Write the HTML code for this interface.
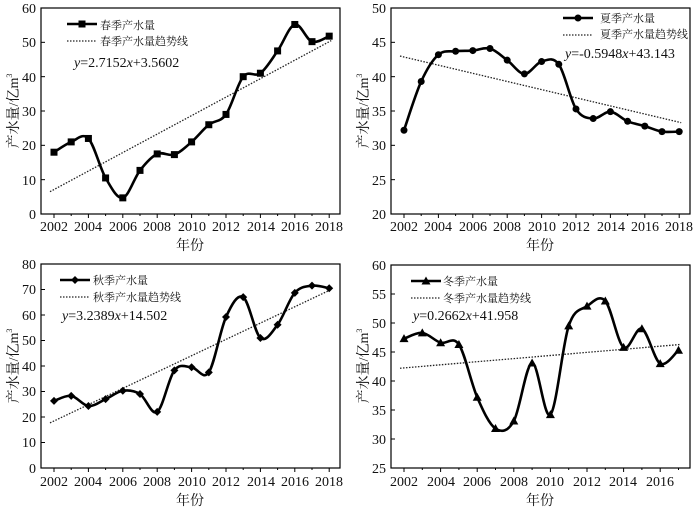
<!DOCTYPE html>
<html><head><meta charset="utf-8"><style>
html,body{margin:0;padding:0;background:#fff;}
svg{display:block;}
text{font-family:"Liberation Serif","Noto Serif CJK SC",serif;fill:#111;}
.t{font-size:14px;}
.lg{font-size:11px;}
</style></head><body>
<svg id="s" width="700" height="510" xmlns="http://www.w3.org/2000/svg">
<g id="g"></g>
<g class="t" text-anchor="end">
<text x="36" y="13">60</text><text x="36" y="47">50</text><text x="36" y="82">40</text><text x="36" y="116">30</text><text x="36" y="150">20</text><text x="36" y="185">10</text><text x="36" y="219">0</text>
</g>
<g class="t" text-anchor="middle">
<text x="54" y="231">2002</text><text x="88" y="231">2004</text><text x="123" y="231">2006</text><text x="157" y="231">2008</text><text x="192" y="231">2010</text><text x="226" y="231">2012</text><text x="261" y="231">2014</text><text x="295" y="231">2016</text><text x="329" y="231">2018</text>
<text x="190" y="250">年份</text>
</g>
<text class="t" transform="translate(18,111) rotate(-90)" text-anchor="middle">产水量/亿m<tspan font-size="8" dy="-6">3</tspan></text>
<text class="lg" x="100" y="29">春季产水量</text>
<text class="lg" x="100" y="45">春季产水量趋势线</text>
<text class="t" x="74" y="67"><tspan font-style="italic">y</tspan>=2.7152<tspan font-style="italic">x</tspan>+3.5602</text>

<g class="t" text-anchor="end">
<text x="386" y="13">50</text><text x="386" y="47">45</text><text x="386" y="82">40</text><text x="386" y="116">35</text><text x="386" y="150">30</text><text x="386" y="185">25</text><text x="386" y="219">20</text>
</g>
<g class="t" text-anchor="middle">
<text x="404" y="231">2002</text><text x="438" y="231">2004</text><text x="473" y="231">2006</text><text x="507" y="231">2008</text><text x="542" y="231">2010</text><text x="576" y="231">2012</text><text x="611" y="231">2014</text><text x="645" y="231">2016</text><text x="679" y="231">2018</text>
<text x="540" y="250">年份</text>
</g>
<text class="t" transform="translate(368,111) rotate(-90)" text-anchor="middle">产水量/亿m<tspan font-size="8" dy="-6">3</tspan></text>
<text class="lg" x="600" y="22">夏季产水量</text>
<text class="lg" x="600" y="38">夏季产水量趋势线</text>
<text class="t" x="565" y="58"><tspan font-style="italic">y</tspan>=-0.5948<tspan font-style="italic">x</tspan>+43.143</text>

<g class="t" text-anchor="end">
<text x="36" y="269">80</text><text x="36" y="294">70</text><text x="36" y="320">60</text><text x="36" y="345">50</text><text x="36" y="371">40</text><text x="36" y="396">30</text><text x="36" y="422">20</text><text x="36" y="447">10</text><text x="36" y="473">0</text>
</g>
<g class="t" text-anchor="middle">
<text x="54" y="486">2002</text><text x="88" y="486">2004</text><text x="123" y="486">2006</text><text x="157" y="486">2008</text><text x="192" y="486">2010</text><text x="226" y="486">2012</text><text x="261" y="486">2014</text><text x="295" y="486">2016</text><text x="329" y="486">2018</text>
<text x="190" y="505">年份</text>
</g>
<text class="t" transform="translate(18,366) rotate(-90)" text-anchor="middle">产水量/亿m<tspan font-size="8" dy="-6">3</tspan></text>
<text class="lg" x="93" y="284">秋季产水量</text>
<text class="lg" x="93" y="301">秋季产水量趋势线</text>
<text class="t" x="62" y="320"><tspan font-style="italic">y</tspan>=3.2389<tspan font-style="italic">x</tspan>+14.502</text>

<g class="t" text-anchor="end">
<text x="386" y="270">60</text><text x="386" y="299">55</text><text x="386" y="328">50</text><text x="386" y="357">45</text><text x="386" y="386">40</text><text x="386" y="415">35</text><text x="386" y="444">30</text><text x="386" y="473">25</text>
</g>
<g class="t" text-anchor="middle">
<text x="404" y="486">2002</text><text x="441" y="486">2004</text><text x="477" y="486">2006</text><text x="514" y="486">2008</text><text x="550" y="486">2010</text><text x="587" y="486">2012</text><text x="623" y="486">2014</text><text x="660" y="486">2016</text>
<text x="540" y="505">年份</text>
</g>
<text class="t" transform="translate(368,366) rotate(-90)" text-anchor="middle">产水量/亿m<tspan font-size="8" dy="-6">3</tspan></text>
<text class="lg" x="443" y="285">冬季产水量</text>
<text class="lg" x="443" y="302">冬季产水量趋势线</text>
<text class="t" x="413" y="320"><tspan font-style="italic">y</tspan>=0.2662<tspan font-style="italic">x</tspan>+41.958</text>
</svg>
<script>
var NS="http://www.w3.org/2000/svg",G=document.getElementById("g");
function el(t,a){var e=document.createElementNS(NS,t);for(var k in a)e.setAttribute(k,a[k]);G.appendChild(e);return e;}
function cr(p){var d="M"+p[0][0]+","+p[0][1];for(var i=0;i<p.length-1;i++){var p0=p[i-1]||p[i],p1=p[i],p2=p[i+1],p3=p[i+2]||p2;var t=6;d+=" C"+(p1[0]+(p2[0]-p0[0])/t)+","+(p1[1]+(p2[1]-p0[1])/t)+" "+(p2[0]-(p3[0]-p1[0])/t)+","+(p2[1]-(p3[1]-p1[1])/t)+" "+p2[0]+","+p2[1];}return d;}
function marker(m,x,y){
 if(m=="sq")el("rect",{x:x-3.5,y:y-3.5,width:7,height:7,fill:"#000"});
 else if(m=="c")el("circle",{cx:x,cy:y,r:3.5,fill:"#000"});
 else if(m=="d")el("path",{d:"M"+x+","+(y-4)+"L"+(x+4)+","+y+"L"+x+","+(y+4)+"L"+(x-4)+","+y+"Z",fill:"#000"});
 else el("path",{d:"M"+x+","+(y-4.5)+"L"+(x+4.5)+","+(y+3.5)+"L"+(x-4.5)+","+(y+3.5)+"Z",fill:"#000"});
}
function panel(o){
 el("rect",{x:o.L,y:o.T,width:o.R-o.L,height:o.B-o.T,fill:"none",stroke:"#000","stroke-width":1.2});
 function Y(v){return o.B-(v-o.y0)/(o.y1-o.y0)*(o.B-o.T);}
 function X(i){return o.x0+i*o.dx;}
 for(var v=o.y0;v<=o.y1+1e-9;v+=o.ys)el("line",{x1:o.L,x2:o.L+4,y1:Y(v),y2:Y(v),stroke:"#000"});
 for(var i=0;i<o.d.length;i+=1)el("line",{x1:X(i),x2:X(i),y1:o.B,y2:o.B+(i%2==0?4:2),stroke:"#000"});
 var n=o.d.length;
 el("line",{x1:X(0)-4,y1:Y(o.tr[0]),x2:X(n-1)+2,y2:Y(o.tr[1]),stroke:"#222","stroke-width":1.3,"stroke-dasharray":"1.5,1.5"});
 var p=o.d.map(function(v,i){return[X(i),Y(v)];});
 el("path",{d:cr(p),fill:"none",stroke:"#000","stroke-width":2.6});
 p.forEach(function(q){marker(o.m,q[0],q[1]);});
 el("line",{x1:o.lx,x2:o.lx+30,y1:o.ly,y2:o.ly,stroke:"#000","stroke-width":2.6});
 marker(o.m,o.lx+15,o.ly);
 el("line",{x1:o.lx,x2:o.lx+30,y1:o.ly+17,y2:o.ly+17,stroke:"#222","stroke-width":1.3,"stroke-dasharray":"1.5,1.5"});
}
panel({L:41,R:340,T:8,B:214,y0:0,y1:60,ys:10,x0:54,dx:17.2,m:"sq",lx:67,ly:24,tr:[6.5,50.5],
 d:[18,21,22,10.5,4.7,12.7,17.5,17.3,21,26,29,40,41,47.5,55.2,50.2,51.8]});
panel({L:391,R:690,T:8,B:214,y0:20,y1:50,ys:5,x0:404,dx:17.2,m:"c",lx:563,ly:18,tr:[43.0,33.3],
 d:[32.2,39.3,43.2,43.7,43.8,44.1,42.4,40.4,42.2,41.8,35.3,33.9,34.9,33.5,32.8,32.0,32.0]});
panel({L:41,R:340,T:264,B:468,y0:0,y1:80,ys:10,x0:54,dx:17.2,m:"d",lx:60,ly:280,tr:[17.7,70],
 d:[26.3,28.3,24.3,27,30.3,29,22,38.3,39.5,37.5,59.2,67,51,56.2,68.7,71.5,70.5]});
panel({L:391,R:690,T:265,B:468,y0:25,y1:60,ys:5,x0:404,dx:18.3,m:"t",lx:411,ly:281,tr:[42.2,46.3],
 d:[47.3,48.3,46.6,46.3,37.2,31.8,33.1,43.1,34.2,49.5,52.9,53.8,45.8,49,43,45.3]});
</script>
</body></html>
